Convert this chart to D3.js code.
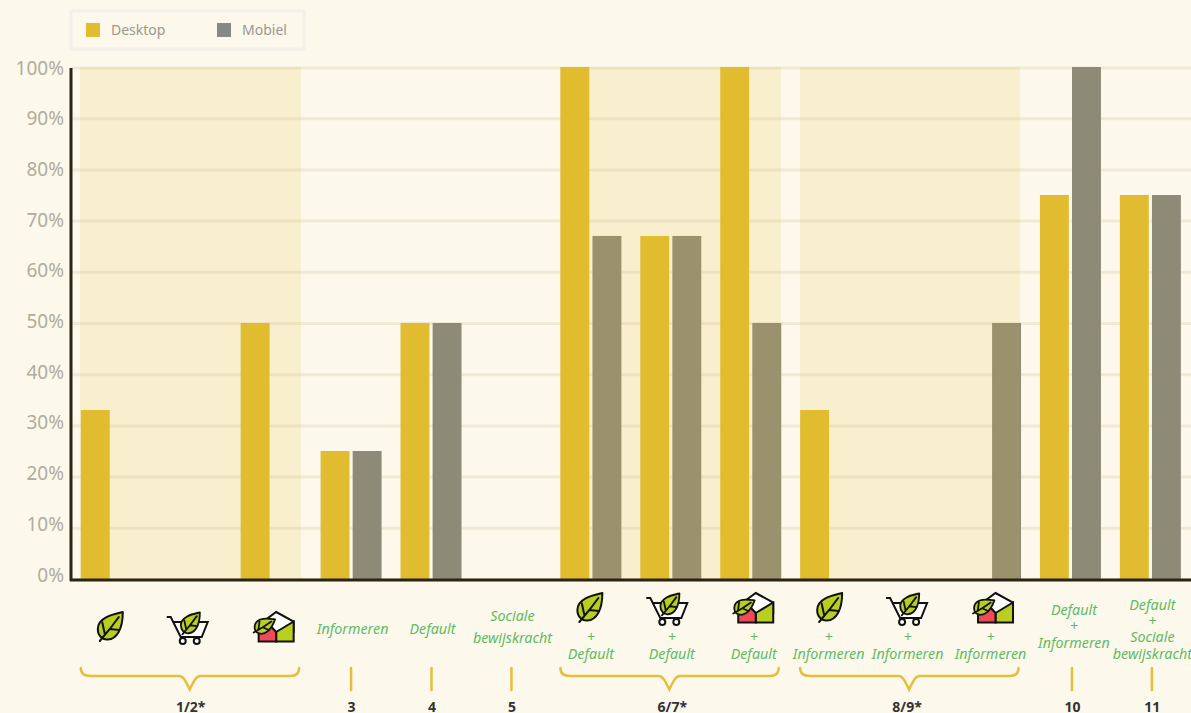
<!DOCTYPE html>
<html><head><meta charset="utf-8">
<script src="https://cdn.jsdelivr.net/npm/d3@7/dist/d3.min.js"></script>
<style>
html,body{margin:0;padding:0;background:#fcf8ec;overflow:hidden}
svg{display:block}
text{font-family:"Noto Sans",sans-serif}
</style></head><body>
<svg id="c" width="1191" height="713"></svg>
<script>
// ---- data ----
const categories = ["c1","c1b","c1c","c3","c4","c5","c6","c6b","c6c","c8","c8b","c8c","c10","c11"];
const desktopValues = [33,0,50,25,50,0,100,67,100,33,0,0,75,75];
const mobileValues  = [0,0,0,25,50,0,67,67,50,0,0,50,100,75];
const seriesNames = ["Desktop","Mobiel"];
const iconNames = ["leaf","cart","house",null,null,null,"leaf","cart","house","leaf","cart","house",null,null];
const categoryLabels = [[],[],[],["Informeren"],["Default"],["Sociale","bewijskracht"],
  ["+","Default"],["+","Default"],["+","Default"],
  ["+","Informeren"],["+","Informeren"],["+","Informeren"],
  ["Default","+","Informeren"],["Default","+","Sociale","bewijskracht"]];
const bracketGroups = [{name:"1/2*",from:"c1",to:"c1c"},{name:"6/7*",from:"c6",to:"c6c"},{name:"8/9*",from:"c8",to:"c8c"}];
const tickGroups = [{name:"3",at:"c3"},{name:"4",at:"c4"},{name:"5",at:"c5"},{name:"10",at:"c10"},{name:"11",at:"c11"}];
const yTicks = [0,10,20,30,40,50,60,70,80,90,100];

// ---- layout ----
const colDesktop="#e1bc30", colMobile="#8e8a78", colLegendMobile="#888888", colGreen="#5fbb62", colBrace="#e5bf3c";
const svg=d3.select("#c");
const x=d3.scaleBand().domain(categories).range([70.8,1189.8]);
const sub=d3.scaleBand().domain(seriesNames).range([10,71]).paddingInner(0.0984);
const y=d3.scaleLinear().domain([0,100]).range([579,67]);
const yLabel=d3.scaleLinear().domain([0,100]).range([575,68]);
const cx=c=>x(c)+40;

// grid
const yAxis=d3.axisLeft(yLabel).tickValues(yTicks).tickFormat(d=>d+"%").tickSize(0).tickPadding(7);
svg.append("g").selectAll("line").data(yTicks).join("line")
  .attr("x1",71).attr("x2",1191).attr("y1",d=>y(d)+(d===100?1:0.5)).attr("y2",d=>y(d)+(d===100?1:0.5))
  .attr("stroke","#efe9d6").attr("stroke-width",3);

// bars
const rows=categories.map((c,i)=>({c,Desktop:desktopValues[i],Mobiel:mobileValues[i]}));
seriesNames.forEach(s=>{
  svg.append("g").selectAll("rect").data(rows).join("rect")
    .attr("x",d=>x(d.c)+sub(s)).attr("width",sub.bandwidth())
    .attr("y",d=>y(d[s])).attr("height",d=>y(0)-y(d[s]))
    .attr("fill",s==="Desktop"?colDesktop:colMobile);
});

// highlight overlay
svg.append("g").selectAll("rect").data(bracketGroups).join("rect")
  .attr("x",d=>Math.round(x(d.from)+9.4)).attr("width",d=>Math.round(x(d.to)+70.4)-Math.round(x(d.from)+9.4))
  .attr("y",y(100)).attr("height",y(0)-y(100))
  .attr("fill",colDesktop).attr("fill-opacity",0.15);

// axes
const ga=svg.append("g").attr("transform","translate(71,0)").call(yAxis);
ga.select(".domain").remove();
ga.selectAll("text").attr("font-size",19).attr("fill","#b0ad9b").style("font-family",'"Noto Sans",sans-serif').attr("dy","0.32em");
svg.append("line").attr("x1",71).attr("x2",71).attr("y1",y(100)+1).attr("y2",y(0)+2).attr("stroke","#2a2414").attr("stroke-width",3);
svg.append("line").attr("x1",70).attr("x2",1191).attr("y1",y(0)+1).attr("y2",y(0)+1).attr("stroke","#2a2414").attr("stroke-width",3);

// legend
const leg=svg.append("g");
leg.append("rect").attr("x",71).attr("y",11).attr("width",233).attr("height",38).attr("fill","none").attr("stroke","#f2f0e9").attr("stroke-width",3);
const legX=d3.scalePoint().domain(seriesNames).range([86,217]);
seriesNames.forEach(s=>{
  leg.append("rect").attr("x",legX(s)).attr("y",23).attr("width",14).attr("height",14).attr("fill",s==="Desktop"?colDesktop:colLegendMobile);
  leg.append("text").attr("x",legX(s)+25).attr("y",35).attr("font-size",14).attr("fill","#999890").text(s);
});

// icons
const leafOutline="M12,-14C4,-12 -13,-9 -13,3C-13,10 -8,14 -3,13.5C6,13 12,3 12,-14Z";
const leafVeins="M-11,15L-1,3L8,-9M-6,8L-8.5,-3.5M-1,3L8.5,4";
function leaf(g,tr,w){
  const l=g.append("g").attr("transform",tr);
  l.append("path").attr("d",leafOutline).attr("fill","#b8cf1f").attr("stroke","#111").attr("stroke-width",w).attr("stroke-linejoin","round");
  l.append("path").attr("d",leafVeins).attr("fill","none").attr("stroke","#111").attr("stroke-width",w).attr("stroke-linecap","round");
}
const draw={
  leaf(g){leaf(g,"translate(0,0)",2);},
  cart(g){
    g.append("path").attr("d","M-24,-9H-20L-10,11H11L17,-4H-17").attr("fill","#fff").attr("stroke","#111").attr("stroke-width",2);
    g.selectAll("circle").data([-8,6]).join("circle").attr("cx",d=>d).attr("cy",15).attr("r",3).attr("fill","#fff").attr("stroke","#111").attr("stroke-width",2);
    leaf(g,"translate(0,-3) scale(.76)",2.4);
  },
  house(g){
    g.append("path").attr("d","M5.5,-14L23,-4.5V6L5.5,6L-8,-4Z").attr("fill","#fff").attr("stroke","#111").attr("stroke-width",2);
    g.append("path").attr("d","M5.5,6L23,-4.5V15.5H5.5Z").attr("fill","#b8cf1f").attr("stroke","#111").attr("stroke-width",2);
    g.append("path").attr("d","M-12,4L-1,-1L5.5,6V15.5H-12Z").attr("fill","#ee4a57").attr("stroke","#111").attr("stroke-width",2);
    leaf(g,"translate(-6.5,-.5) rotate(20) scale(.68)",2.6);
  }
};
iconNames.forEach((n,i)=>{
  if(!n)return;
  const cy=i<3?626:607;
  const g=svg.append("g").attr("transform",`translate(${cx(categories[i])},${cy})`);
  draw[n](g);
});

// green labels
const labelNudge={c3:2,c4:2,c5:2,c6:0.5,c6b:1.5,c6c:3.5,c8:-1.5,c8b:-2.5,c8c:0.5,c10:4,c11:2.5};
const labelBaselines={c3:[634],c4:[634],c5:[621,643],c6:[642,659],c6b:[642,659],c6c:[642,659],c8:[642,659],c8b:[642,659],c8c:[642,659],c10:[615,631,648],c11:[610,626,642,659]};
categories.forEach((c,i)=>{
  categoryLabels[i].forEach((t,j)=>{
    svg.append("text").attr("x",cx(c)+labelNudge[c]).attr("y",labelBaselines[c][j])
      .attr("text-anchor","middle").attr("font-size",14.3).attr("font-style","italic").attr("fill",colGreen).text(t);
  });
});

// brackets
const bracketLabelNudge={"1/2*":0,"6/7*":2,"8/9*":-3};
bracketGroups.forEach(b=>{
  const a=cx(b.from)-30,e=cx(b.to)+28.5,m=(cx(b.from)+cx(b.to))/2-1;
  svg.append("path").attr("d",`M${a},668C${a},673 ${a+3},676 ${a+10},676H${m-11}C${m-7},676 ${m-5},679 ${m},689.5C${m+5},679 ${m+7},676 ${m+11},676H${e-9}C${e-3},676 ${e},673 ${e},668`)
    .attr("fill","none").attr("stroke",colBrace).attr("stroke-width",2.5).attr("stroke-linecap","round");
  svg.append("text").attr("x",m+1+bracketLabelNudge[b.name]).attr("y",712).attr("text-anchor","middle").attr("font-size",14).attr("font-weight",700).attr("fill","#333").text(b.name);
});
const tickNudge={c3:0.5,c4:1,c5:1,c10:2,c11:2};
tickGroups.forEach(t=>{
  const tx=cx(t.at)+tickNudge[t.at];
  svg.append("line").attr("x1",tx).attr("x2",tx).attr("y1",668).attr("y2",690).attr("stroke",colBrace).attr("stroke-width",2.5).attr("stroke-linecap","round");
  svg.append("text").attr("x",tx+0.5).attr("y",712).attr("text-anchor","middle").attr("font-size",14).attr("font-weight",700).attr("fill","#333").text(t.name);
});
</script></body></html>
